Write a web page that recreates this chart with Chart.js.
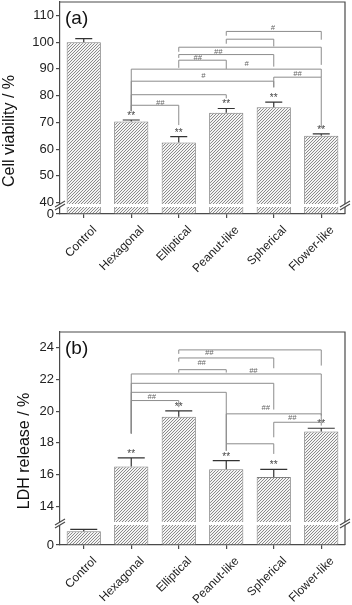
<!DOCTYPE html>
<html>
<head>
<meta charset="utf-8">
<script src="https://cdn.jsdelivr.net/npm/chart.js@4.4.1/dist/chart.umd.min.js"></script>
<style>
  html, body { margin: 0; padding: 0; background: #fff; }
  #wrap { position: relative; width: 352px; height: 605px; }
  canvas { position: absolute; left: 0; }
  #panel-a { top: 0; }
  #panel-b { top: 302px; }
</style>
</head>
<body>
<div id="wrap">
  <canvas id="panel-a" width="352" height="302"></canvas>
  <canvas id="panel-b" width="352" height="303"></canvas>
</div>
<script>
const CATEGORIES = ['Control', 'Hexagonal', 'Elliptical', 'Peanut-like', 'Spherical', 'Flower-like'];

// (a) cell viability, %
const VIABILITY = [100, 70.3, 62.5, 73.6, 75.7, 65.0];
const VIABILITY_ERR = [1.3, 0.6, 2.2, 1.6, 1.9, 0.7];
const VIABILITY_TICKS = [40, 50, 60, 70, 80, 90, 100, 110];
const VIABILITY_LOW_TICKS = [0];
const VIABILITY_STARS = ['', '**', '**', '**', '**', '**'];
// [from, to, level, left end, right end]
const VIABILITY_BRACKETS = [
  [3, 5, 104.0, 102.4, 100.9],
  [3, 4, 101.1, 99.4, 98.4],
  [2, 5, 98.1, 96.4, 91.5],
  [2, 4, 95.35, 94.1, 90.85],
  [2, 3, 93.25, 90.4, 90.0],
  [1, 5, 89.9, 74.2, 86.9],
  [1, 4, 85.4, 74.2, 83.1],
  [4, 5, 86.9, 83.1, 67.9],
  [1, 3, 80.35, 74.2, 79.0],
  [1, 2, 76.4, 74.2, 69.0],
];
// [text, category position, value]
const VIABILITY_MARKS = [
  ['#', 3.98, 105.25], ['##', 2.83, 96.25], ['##', 2.40, 94.0], ['#', 3.43, 91.75],
  ['#', 2.52, 87.4], ['##', 4.50, 88.1], ['##', 1.61, 77.4],
];

// (b) LDH release, %
const LDH = [2.0, 16.5, 19.64, 16.33, 15.85, 18.71];
const LDH_ERR = [0.27, 0.55, 0.38, 0.55, 0.47, 0.21];
const LDH_TICKS = [14, 16, 18, 20, 22, 24];
const LDH_LOW_TICKS = [0, 2];
const LDH_STARS = ['', '**', '**', '**', '**', '**'];
const LDH_BRACKETS = [
  [2, 5, 23.87, 23.62, 22.88],
  [2, 4, 23.36, 23.13, 22.71],
  [2, 3, 22.62, 22.44, 22.44],
  [1, 5, 22.35, 18.59, 19.72],
  [1, 4, 21.76, 18.59, 20.1],
  [1, 3, 21.19, 18.59, 17.94],
  [1, 2, 20.67, 18.59, 20.25],
  [3, 5, 19.83, 17.5, 19.3],
  [4, 5, 19.3, 18.35, 19.09],
  [3, 4, 17.94, 17.5, 17.3],
];
const LDH_MARKS = [
  ['##', 2.64, 23.65], ['##', 2.48, 23.05], ['##', 3.57, 22.56],
  ['##', 1.43, 20.88], ['##', 3.83, 20.2], ['##', 4.39, 19.55],
];

const FONT = "'Liberation Sans', Arial, sans-serif";
const AXIS = '#4a4a4a';
const TEXT = '#222';
Chart.defaults.font.family = FONT;

function hatch(ctx) {
  const c = document.createElement('canvas');
  c.width = c.height = 3;
  const g = c.getContext('2d');
  g.fillStyle = '#f4f4f4';
  g.fillRect(0, 0, 3, 3);
  g.strokeStyle = '#8a8a8a';
  g.lineWidth = 1;
  g.beginPath();
  g.moveTo(0, 3); g.lineTo(3, 0);
  g.moveTo(-1, 1); g.lineTo(1, -1);
  g.moveTo(2, 4); g.lineTo(4, 2);
  g.stroke();
  return ctx.createPattern(c, 'repeat');
}

function valueAxis(ticks, weight, stackWeight, min, max) {
  return {
    type: 'linear',
    position: 'left',
    stack: 'v',
    stackWeight,
    weight,
    min,
    max,
    afterBuildTicks: (s) => { s.ticks = ticks.map(value => ({ value })); },
    afterFit: (s) => { s.width = 60; s.paddingTop = 0; s.paddingBottom = 0; },
    grid: { drawOnChartArea: false, drawTicks: true, tickLength: 4, tickColor: AXIS, lineWidth: 1.2 },
    border: { color: AXIS, width: 1.2 },
    ticks: { font: { size: 13 }, color: TEXT, padding: 2, callback: v => String(v) },
  };
}

function makePanel(id, p) {
  const ctx = document.getElementById(id).getContext('2d');
  const fill = hatch(ctx);

  const decor = {
    id: 'decor',
    afterDatasetsDraw(chart) {
      const { ctx, chartArea: a, scales: { x, y, y2 } } = chart;
      ctx.save();

      // top and right side of the frame
      ctx.strokeStyle = AXIS;
      ctx.lineWidth = 1.2;
      ctx.beginPath();
      ctx.moveTo(a.left, a.top);
      ctx.lineTo(a.right, a.top);
      ctx.lineTo(a.right, a.bottom);
      ctx.stroke();

      // axis break band with // marks
      const bt = y2.top, bb = y2.top + 3;
      ctx.fillStyle = '#fff';
      ctx.fillRect(a.left, bt, a.right - a.left, bb - bt);
      [a.left, a.right].forEach(bx => {
        ctx.beginPath();
        ctx.moveTo(bx - 5, bt + 3); ctx.lineTo(bx + 5, bt - 3);
        ctx.lineTo(bx + 5, bb - 3); ctx.lineTo(bx - 5, bb + 3);
        ctx.closePath();
        ctx.fill();
        ctx.beginPath();
        ctx.moveTo(bx - 5, bt + 3); ctx.lineTo(bx + 5, bt - 3);
        ctx.moveTo(bx - 5, bb + 3); ctx.lineTo(bx + 5, bb - 3);
        ctx.stroke();
      });

      // error bars and stars
      ctx.strokeStyle = '#333';
      ctx.fillStyle = '#444';
      ctx.font = '10px ' + FONT;
      ctx.textAlign = 'center';
      ctx.textBaseline = 'alphabetic';
      p.values.forEach((v, i) => {
        const s = v > y.min ? y : y2;
        const cx = x.getPixelForValue(i);
        const top = s.getPixelForValue(v + p.errors[i]);
        ctx.beginPath();
        ctx.moveTo(cx, s.getPixelForValue(v));
        ctx.lineTo(cx, top);
        ctx.moveTo(cx - p.cap / 2, top);
        ctx.lineTo(cx + p.cap / 2, top);
        ctx.stroke();
        if (p.stars[i]) ctx.fillText(p.stars[i], cx, top - 1);
      });

      // comparison brackets
      ctx.strokeStyle = '#8c8c8c';
      ctx.lineWidth = 1;
      p.brackets.forEach(([from, to, level, leftEnd, rightEnd]) => {
        const x1 = x.getPixelForValue(from);
        const x2 = x.getPixelForValue(to);
        const ly = y.getPixelForValue(level);
        ctx.beginPath();
        ctx.moveTo(x1, y.getPixelForValue(leftEnd));
        ctx.lineTo(x1, ly);
        ctx.lineTo(x2, ly);
        ctx.lineTo(x2, y.getPixelForValue(rightEnd));
        ctx.stroke();
      });
      ctx.fillStyle = '#666';
      ctx.font = 'italic 7.5px ' + FONT;
      ctx.textBaseline = 'middle';
      p.marks.forEach(([text, at, v]) => {
        ctx.fillText(text, x.getPixelForValue(at), y.getPixelForValue(v));
      });

      // panel letter and axis title
      ctx.fillStyle = '#111';
      ctx.font = '19px ' + FONT;
      ctx.textAlign = 'left';
      ctx.fillText(p.letter, a.left + 5, a.top + 17);
      ctx.translate(p.titleX, p.titleY);
      ctx.rotate(-Math.PI / 2);
      ctx.textAlign = 'center';
      ctx.font = '16px ' + FONT;
      ctx.fillText(p.title, 0, 0);
      ctx.restore();
    },
  };

  const barStyle = {
    backgroundColor: fill,
    borderColor: '#808080',
    borderWidth: 1,
    grouped: false,
    barPercentage: 0.72,
    categoryPercentage: 1,
  };

  return new Chart(ctx, {
    type: 'bar',
    data: {
      labels: CATEGORIES,
      datasets: [
        { ...barStyle, data: p.values.map(v => (v > p.min ? v : null)), yAxisID: 'y', base: p.min },
        { ...barStyle, data: p.values.map(v => Math.min(v, p.lowMax)), yAxisID: 'y2', base: 0 },
      ],
    },
    options: {
      responsive: false,
      animation: false,
      layout: { padding: { top: p.padTop, right: 7, left: 0, bottom: 0 } },
      plugins: { legend: { display: false }, tooltip: { enabled: false } },
      scales: {
        x: {
          offset: true,
          grid: { offset: false, drawOnChartArea: false, drawTicks: true, tickLength: 4, tickColor: AXIS, lineWidth: 1.2 },
          border: { color: AXIS, width: 1.2 },
          ticks: {
            font: { size: 12 }, color: TEXT, minRotation: 45, maxRotation: 45,
            autoSkip: false, padding: 5, labelOffset: 11,
          },
          afterFit: (s) => { s.height = p.xHeight; s.paddingLeft = 0; s.paddingRight = 0; },
        },
        y: valueAxis(p.ticks, 2, p.upperWeight, p.min, p.max),
        y2: valueAxis(p.lowTicks, 1, p.lowerWeight, 0, p.lowMax),
      },
    },
    plugins: [decor],
  });
}

makePanel('panel-a', {
  letter: '(a)', title: 'Cell viability / %', titleX: 10, titleY: 131,
  values: VIABILITY, errors: VIABILITY_ERR, stars: VIABILITY_STARS,
  ticks: VIABILITY_TICKS, lowTicks: VIABILITY_LOW_TICKS,
  brackets: VIABILITY_BRACKETS, marks: VIABILITY_MARKS,
  min: 39.5, max: 115, lowMax: 5, upperWeight: 202, lowerWeight: 10,
  padTop: 2, xHeight: 88, cap: 17,
});

makePanel('panel-b', {
  letter: '(b)', title: 'LDH release / %', titleX: 25, titleY: 149,
  values: LDH, errors: LDH_ERR, stars: LDH_STARS,
  ticks: LDH_TICKS, lowTicks: LDH_LOW_TICKS,
  brackets: LDH_BRACKETS, marks: LDH_MARKS,
  min: 13, max: 25, lowMax: 3.36, upperWeight: 190, lowerWeight: 23,
  padTop: 30, xHeight: 60, cap: 27,
});
</script>
</body>
</html>
